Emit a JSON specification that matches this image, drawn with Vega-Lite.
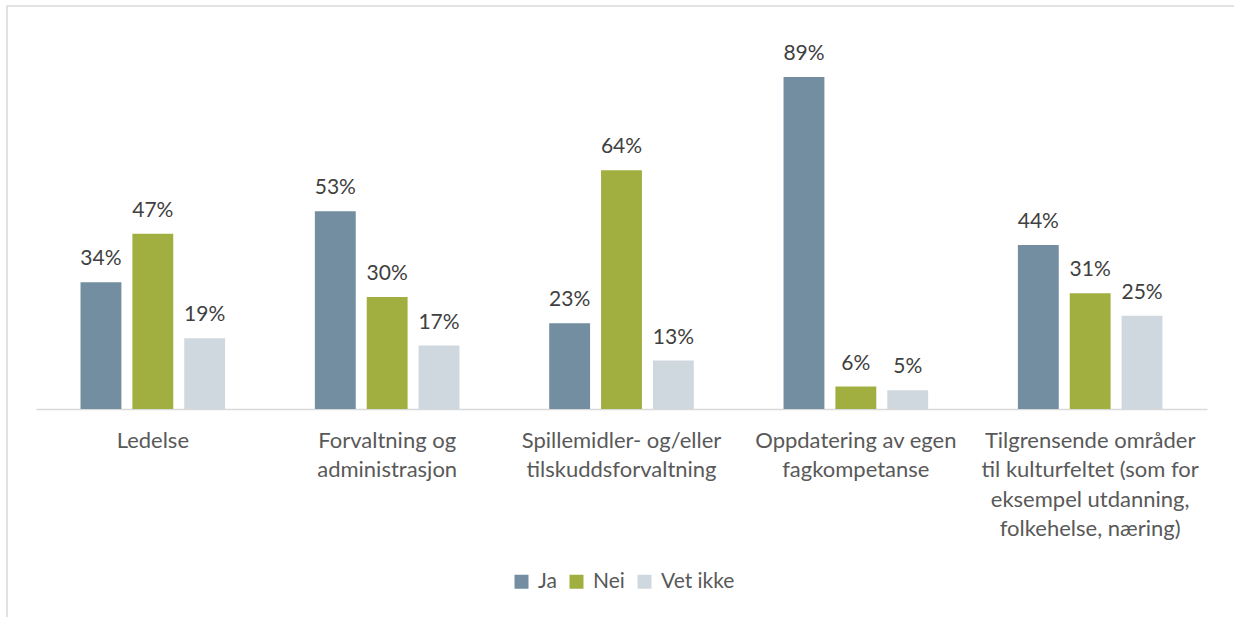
{
  "$schema": "https://vega.github.io/schema/vega-lite/v6.json",
  "autosize": {"type": "none"},
  "width": 1237,
  "height": 621,
  "padding": {"left": 7, "top": 6, "right": -10, "bottom": -10},
  "background": "white",
  "config": {
    "view": {"stroke": "#d9d9d9", "strokeWidth": 1.5},
    "font": "Lato"
  },
  "data": {
    "values": [
      {"kategori": "Ledelse", "svar": "Ja", "andel": 0.34},
      {"kategori": "Ledelse", "svar": "Nei", "andel": 0.47},
      {"kategori": "Ledelse", "svar": "Vet ikke", "andel": 0.19},
      {"kategori": "Forvaltning og|administrasjon", "svar": "Ja", "andel": 0.53},
      {"kategori": "Forvaltning og|administrasjon", "svar": "Nei", "andel": 0.30},
      {"kategori": "Forvaltning og|administrasjon", "svar": "Vet ikke", "andel": 0.17},
      {"kategori": "Spillemidler- og/eller|tilskuddsforvaltning", "svar": "Ja", "andel": 0.23},
      {"kategori": "Spillemidler- og/eller|tilskuddsforvaltning", "svar": "Nei", "andel": 0.64},
      {"kategori": "Spillemidler- og/eller|tilskuddsforvaltning", "svar": "Vet ikke", "andel": 0.13},
      {"kategori": "Oppdatering av egen|fagkompetanse", "svar": "Ja", "andel": 0.89},
      {"kategori": "Oppdatering av egen|fagkompetanse", "svar": "Nei", "andel": 0.06},
      {"kategori": "Oppdatering av egen|fagkompetanse", "svar": "Vet ikke", "andel": 0.05},
      {"kategori": "Tilgrensende områder|til kulturfeltet (som for|eksempel utdanning,|folkehelse, næring)", "svar": "Ja", "andel": 0.44},
      {"kategori": "Tilgrensende områder|til kulturfeltet (som for|eksempel utdanning,|folkehelse, næring)", "svar": "Nei", "andel": 0.31},
      {"kategori": "Tilgrensende områder|til kulturfeltet (som for|eksempel utdanning,|folkehelse, næring)", "svar": "Vet ikke", "andel": 0.25}
    ]
  },
  "encoding": {
    "x": {
      "field": "kategori",
      "type": "nominal",
      "sort": null,
      "title": null,
      "scale": {"range": [29, 1200], "paddingInner": 0.383, "paddingOuter": 0.19},
      "axis": {
        "orient": "bottom",
        "offset": -218,
        "labelExpr": "split(datum.label, '|')",
        "labelAngle": 0,
        "labelFont": "Lato",
        "labelFontSize": 22,
        "labelColor": "#595959",
        "labelLineHeight": 29.5,
        "labelPadding": 21,
        "labelBaseline": "top",
        "ticks": false,
        "domainColor": "#d9d9d9",
        "domainWidth": 1.5,
        "labelLimit": 400
      }
    },
    "xOffset": {
      "field": "svar",
      "type": "nominal",
      "sort": ["Ja", "Nei", "Vet ikke"],
      "scale": {"paddingInner": 0.212}
    },
    "y": {
      "field": "andel",
      "type": "quantitative",
      "scale": {"domain": [0, 1], "range": [403, 30]},
      "axis": null
    }
  },
  "layer": [
    {
      "mark": {"type": "bar"},
      "encoding": {
        "color": {
          "field": "svar",
          "type": "nominal",
          "sort": ["Ja", "Nei", "Vet ikke"],
          "scale": {"domain": ["Ja", "Nei", "Vet ikke"], "range": ["#728EA0", "#A1AF41", "#D0D8DF"]},
          "legend": {
            "title": null,
            "orient": "none",
            "direction": "horizontal",
            "legendX": 504,
            "legendY": 565,
            "symbolType": "square",
            "symbolSize": 196,
            "symbolStrokeWidth": 0,
            "labelFont": "Lato",
            "labelFontSize": 21,
            "labelColor": "#595959",
            "labelOffset": 6,
            "columnPadding": 9,
            "padding": 0
          }
        }
      }
    },
    {
      "mark": {"type": "text", "baseline": "alphabetic", "dy": -17, "fontSize": 21, "font": "Lato", "color": "#404040"},
      "encoding": {
        "text": {"field": "andel", "type": "quantitative", "format": ".0%"}
      }
    }
  ]
}
